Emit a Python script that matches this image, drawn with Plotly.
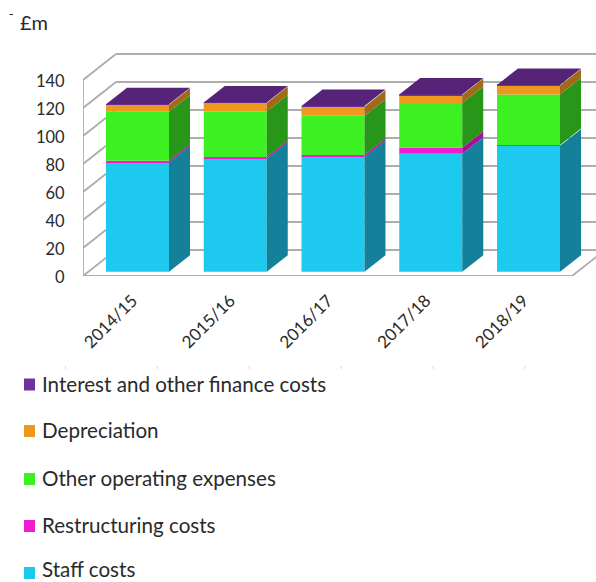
import plotly.graph_objects as go

# Annual cost breakdown, £m
years = ["2014/15", "2015/16", "2016/17", "2017/18", "2018/19"]
staff_costs = [78, 80.7, 82, 84.3, 90]
restructuring_costs = [1.2, 1.3, 1.4, 4.2, 0.5]
other_operating = [35, 32.5, 28, 32, 36]
depreciation = [5, 6, 6.5, 5.7, 6.5]
interest_finance = [0.4, 0.4, 0.4, 0.4, 0.4]
y_ticks = [0, 20, 40, 60, 80, 100, 120, 140]

# name, values, front colour, side colour, in stacking order
series = [
    ("Staff costs", staff_costs, "#1DC9EE", "#14809A"),
    ("Restructuring costs", restructuring_costs, "#F01CD0", "#A8109A"),
    ("Other operating expenses", other_operating, "#3CF021", "#289618"),
    ("Depreciation", depreciation, "#EE981E", "#A06A18"),
    ("Interest and other finance costs", interest_finance, "#7030A0", "#4A1F6B"),
]
TOP_FACE = "#552479"
GRID = "#ADADAD"
TEXT = "#2A2A2A"

# Layout of the figure in pixels and the oblique projection built on it
WIDTH, HEIGHT = 596, 582
LEFT, TOP, AXIS_Y = 83, 40, 276
PX_PER_UNIT = 1.4
PX_PER_CAT = 97.75
FIRST_CAT_PX = 137.5
x_range = [(LEFT - FIRST_CAT_PX) / PX_PER_CAT, (WIDTH - FIRST_CAT_PX) / PX_PER_CAT]
y_range = [0, (AXIS_Y - TOP) / PX_PER_UNIT]

BAR_W = 63 / PX_PER_CAT
BAR_DX, BAR_DY = 21 / PX_PER_CAT, 16.5 / PX_PER_UNIT   # depth of a bar
WALL_DX, WALL_DY = 33 / PX_PER_CAT, 26 / PX_PER_UNIT   # depth of the floor
LIFT = 4.3 / PX_PER_UNIT                               # bars stand slightly behind the front edge
FLOOR_RIGHT = x_range[0] + 489 / PX_PER_CAT


def paper_x(px):
    return (px - LEFT) / (WIDTH - LEFT)


def paper_y(py):
    return (AXIS_Y - py) / (AXIS_Y - TOP)


line = dict(color=GRID, width=1.8)
shapes = []


def seg(x0, y0, x1, y1):
    shapes.append(dict(type="line", xref="x", yref="y", x0=x0, y0=y0, x1=x1, y1=y1,
                       line=line, layer="below"))


# Back wall and side wall rules, then the floor outline
for v in y_ticks:
    seg(x_range[0], v, x_range[0] + WALL_DX, v + WALL_DY)
    seg(x_range[0] + WALL_DX, v + WALL_DY, x_range[1] + 0.1, v + WALL_DY)
seg(x_range[0], 0, x_range[0], y_ticks[-1])
seg(x_range[0], 0, FLOOR_RIGHT, 0)
seg(FLOOR_RIGHT, 0, FLOOR_RIGHT + WALL_DX, WALL_DY)

# Faint tick marks under the category labels
for k in range(6):
    px = 65.5 + 91.9 * k
    shapes.append(dict(type="line", xref="paper", yref="paper", x0=paper_x(px), x1=paper_x(px),
                       y0=paper_y(366), y1=paper_y(369),
                       line=dict(color="#D8D8D8", width=1)))

# Small dash beside the unit label
shapes.append(dict(type="line", xref="paper", yref="paper", x0=paper_x(9.5), x1=paper_x(13),
                   y0=paper_y(14.5), y1=paper_y(14.5), line=dict(color=TEXT, width=1)))

fig = go.Figure()

bases = [LIFT] * len(years)
side_traces = []
for name, values, front, side in series:
    fig.add_trace(go.Bar(
        x=list(range(len(years))), y=values, base=list(bases), width=BAR_W,
        name=name, marker=dict(color=front, line=dict(width=0)),
    ))
    xs, ys = [], []
    for i, (b, v) in enumerate(zip(bases, values)):
        r = i + BAR_W / 2
        xs += [r, r + BAR_DX, r + BAR_DX, r, r, None]
        ys += [b, b + BAR_DY, b + v + BAR_DY, b + v, b, None]
    side_traces.append(go.Scatter(
        x=xs, y=ys, mode="lines", fill="toself", fillcolor=side,
        line=dict(width=0, color=side), hoverinfo="skip", showlegend=False,
    ))
    bases = [b + v for b, v in zip(bases, values)]

for tr in side_traces:
    fig.add_trace(tr)

# Top face sits on the full stack height
xs, ys = [], []
for i, t in enumerate(bases):
    l, r = i - BAR_W / 2, i + BAR_W / 2
    xs += [l, r, r + BAR_DX, l + BAR_DX, l, None]
    ys += [t, t, t + BAR_DY, t + BAR_DY, t, None]
fig.add_trace(go.Scatter(
    x=xs, y=ys, mode="lines", fill="toself", fillcolor=TOP_FACE,
    line=dict(width=0, color=TOP_FACE), hoverinfo="skip", showlegend=False,
))

# Key below the chart: swatch and label per series, top of the stack first
annotations = [
    dict(text="£m", xref="paper", yref="paper", x=paper_x(18), y=paper_y(22),
         xanchor="left", yanchor="middle", showarrow=False, font=dict(size=20, color=TEXT)),
]
key_rows = [384.5, 431, 479, 526, 573]
label_rows = [383.5, 430, 478, 525, 569.5]
for row, label_row, (name, _, front, _) in zip(key_rows, label_rows, reversed(series)):
    shapes.append(dict(type="rect", xref="paper", yref="paper", x0=paper_x(24), x1=paper_x(35),
                       y0=paper_y(row - 6), y1=paper_y(row + 6),
                       fillcolor=front, line=dict(width=0)))
    annotations.append(dict(text=name, xref="paper", yref="paper", x=paper_x(40), y=paper_y(label_row),
                            xanchor="left", yanchor="middle", showarrow=False,
                            font=dict(size=20.6, color=TEXT)))

FONT = "Lato, Carlito, Open Sans, sans-serif"
fig.update_layout(
    width=WIDTH, height=HEIGHT, autosize=False, showlegend=False,
    margin=dict(l=LEFT, r=0, t=TOP, b=HEIGHT - AXIS_Y, pad=0, autoexpand=False),
    paper_bgcolor="white", plot_bgcolor="white",
    barmode="overlay", shapes=shapes, annotations=annotations,
    font=dict(family=FONT, color=TEXT),
    xaxis=dict(range=x_range, tickmode="array", tickvals=list(range(len(years))), ticktext=years,
               tickangle=-45, tickfont=dict(size=17), ticklabelshift=-5, showgrid=False,
               zeroline=False, showline=False, ticks="outside", ticklen=7,
               tickcolor="rgba(0,0,0,0)"),
    yaxis=dict(range=y_range, tickmode="array", tickvals=y_ticks, tickfont=dict(size=16.5),
               ticklabelshift=1, showgrid=False, zeroline=False, showline=False,
               ticks="outside", ticklen=14, tickcolor="rgba(0,0,0,0)"),
)

fig.write_html("out.html")
